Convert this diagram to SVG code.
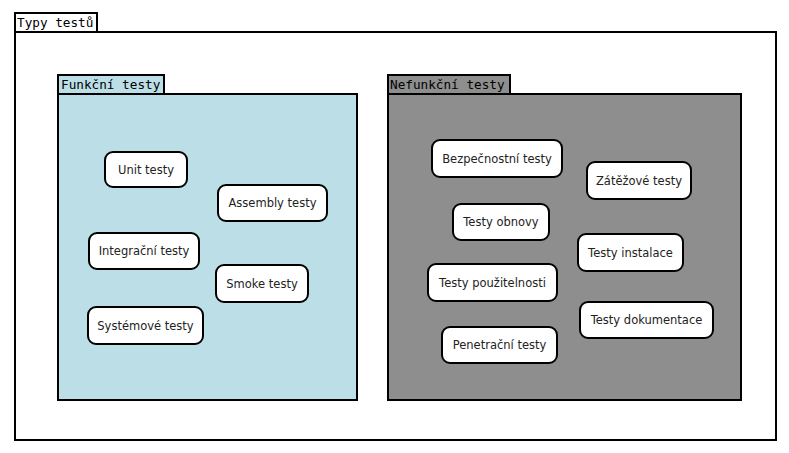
<svg xmlns="http://www.w3.org/2000/svg" width="789" height="453" viewBox="0 0 789 453">
<style>
.frame{stroke:#000;stroke-width:2}
.tabt{font-family:"DejaVu Sans Mono",monospace;font-size:12.7px;fill:#000}
.node rect{fill:#fff;stroke:#000;stroke-width:2}
.node text{font-family:"DejaVu Sans",sans-serif;font-size:11.5px;fill:#222;text-anchor:middle;dominant-baseline:central}
</style>
<rect width="789" height="453" fill="#fff"/>
<g id="typy-testu">
<rect class="frame" x="15" y="32" width="761" height="408" fill="#fff"/>
<rect class="frame" x="15" y="13" width="82" height="19" fill="#fff"/>
<text class="tabt" x="17" y="27">Typy testů</text>
</g>
<g id="funkcni-testy">
<rect class="frame" x="58" y="94" width="299" height="306" fill="#bcdfe7"/>
<rect class="frame" x="58" y="75" width="106" height="19" fill="#bcdfe7"/>
<text class="tabt" x="61" y="89">Funkční testy</text>
</g>
<g id="nefunkcni-testy">
<rect class="frame" x="388" y="94" width="353" height="306" fill="#8e8e8e"/>
<rect class="frame" x="388" y="75" width="122" height="19" fill="#8e8e8e"/>
<text class="tabt" x="390" y="89">Nefunkční testy</text>
</g>
<g id="unit" class="node"><rect x="105" y="152" width="82" height="35" rx="8"/><text x="146" y="169.5">Unit testy</text></g>
<g id="assembly" class="node"><rect x="218" y="185" width="109" height="36" rx="8"/><text x="272.5" y="203">Assembly testy</text></g>
<g id="integracni" class="node"><rect x="89" y="233" width="110" height="36" rx="8"/><text x="144" y="251">Integrační testy</text></g>
<g id="smoke" class="node"><rect x="216" y="265" width="92" height="37" rx="8"/><text x="262" y="283.5">Smoke testy</text></g>
<g id="systemove" class="node"><rect x="88" y="307" width="115" height="37" rx="8"/><text x="145.5" y="325.5">Systémové testy</text></g>
<g id="bezpecnostni" class="node"><rect x="432" y="140" width="130" height="37" rx="8"/><text x="497" y="158.5">Bezpečnostní testy</text></g>
<g id="zatezove" class="node"><rect x="587" y="162" width="104" height="37" rx="8"/><text x="639" y="180.5">Zátěžové testy</text></g>
<g id="obnovy" class="node"><rect x="453" y="204" width="96" height="36" rx="8"/><text x="501" y="222">Testy obnovy</text></g>
<g id="instalace" class="node"><rect x="578" y="234" width="105" height="37" rx="8"/><text x="630.5" y="252.5">Testy instalace</text></g>
<g id="pouzitelnosti" class="node"><rect x="428" y="264" width="129" height="37" rx="8"/><text x="492.5" y="282.5">Testy použitelnosti</text></g>
<g id="dokumentace" class="node"><rect x="580" y="302" width="133" height="36" rx="8"/><text x="646.5" y="320">Testy dokumentace</text></g>
<g id="penetracni" class="node"><rect x="442" y="327" width="115" height="36" rx="8"/><text x="499.5" y="345">Penetrační testy</text></g>
<g id="connectors"></g>
</svg>
